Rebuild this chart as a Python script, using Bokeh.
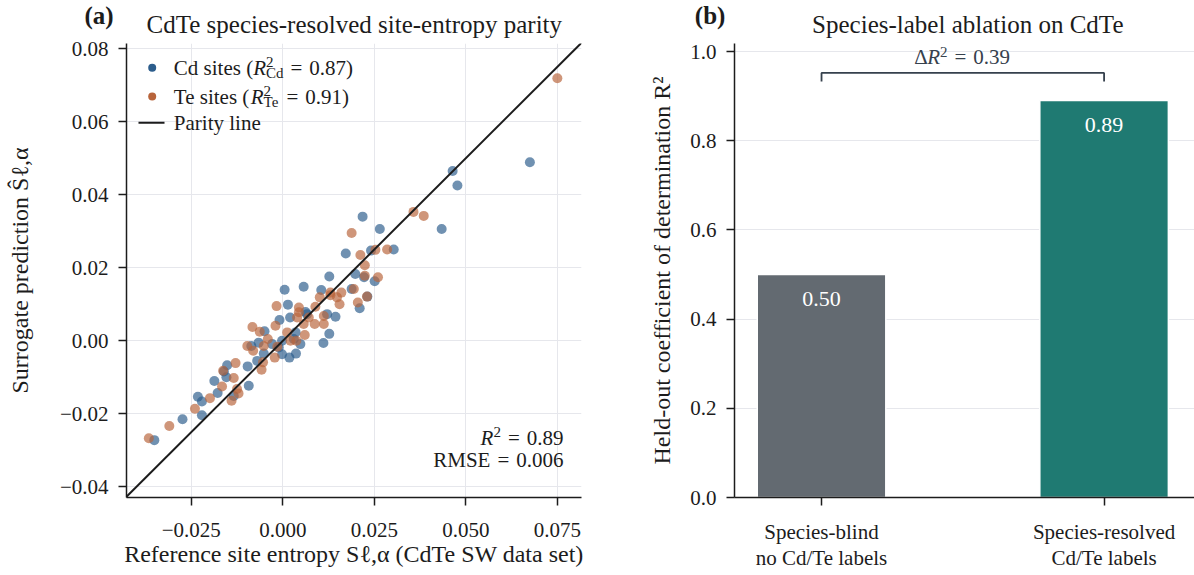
from bokeh.plotting import figure
from bokeh.models import Label, Range1d, FixedTicker, CustomJSTickFormatter, BoxAnnotation, Div
from bokeh.layouts import row, column
from bokeh.embed import file_html
from bokeh.resources import INLINE
from bokeh.core.properties import value

FONT = "Liberation Serif"
INK = "#1c1c1c"

# ---------------- data ----------------
cd_ref = [0.0675, 0.0464, 0.0477, 0.0434, 0.0218, 0.0265, 0.0303, 0.0241, 0.0172, 0.0127,
          0.0198, 0.0222, 0.0251, 0.0188, 0.0231, 0.0210, 0.0057, 0.0005, 0.0105, 0.0014,
          0.0144, 0.0127, 0.0111, 0.0062, 0.0020, -0.0009, -0.0050, -0.0066, -0.0002, 0.0035,
          0.0048, -0.0002, 0.0018, 0.0036, -0.0052, -0.0070, -0.0086, -0.0096, -0.0093, -0.0152,
          -0.0161, -0.0154, -0.0187, -0.0178, -0.0232, -0.0221, -0.0221, -0.0274, -0.0351, -0.0134,
          -0.0011, 0.0030, -0.0029, 0.0066, 0.0121]
cd_pred = [0.0489, 0.0465, 0.0425, 0.0306, 0.0340, 0.0306, 0.0250, 0.0247, 0.0239, 0.0176,
           0.0183, 0.0174, 0.0163, 0.0142, 0.0121, 0.0089, 0.0148, 0.0140, 0.0139, 0.0099,
           0.0066, 0.0019, -0.0006, 0.0079, 0.0064, 0.0057, 0.0026, -0.0005, 0.0000, 0.0023,
           -0.0009, -0.0037, -0.0046, -0.0035, -0.0035, -0.0055, -0.0014, -0.0070, -0.0123, -0.0067,
           -0.0084, -0.0100, -0.0110, -0.0143, -0.0153, -0.0166, -0.0204, -0.0215, -0.0272, -0.0151,
           -0.0018, 0.0005, -0.0009, 0.0073, 0.0073]
te_ref = [0.0750, 0.0357, 0.0385, 0.0188, 0.0253, 0.0285, 0.0212, 0.0224, 0.0224, 0.0260,
          0.0194, 0.0230, 0.0205, 0.0155, 0.0160, 0.0130, 0.0101, 0.0089, 0.0044, 0.0044,
          0.0039, -0.0017, 0.0087, 0.0112, 0.0057, -0.0020, -0.0083, -0.0063, -0.0041, 0.0060,
          0.0021, 0.0037, 0.0012, -0.0097, -0.0081, -0.0052, -0.0015, -0.0022, -0.0054, -0.0058,
          -0.0129, -0.0163, -0.0134, -0.0166, -0.0125, -0.0121, -0.0140, -0.0199, -0.0240, -0.0310,
          -0.0366, 0.0112, 0.0071, 0.0148, 0.0130]
te_pred = [0.0719, 0.0353, 0.0342, 0.0295, 0.0249, 0.0250, 0.0235, 0.0207, 0.0178, 0.0174,
           0.0142, 0.0121, 0.0105, 0.0100, 0.0132, 0.0132, 0.0119, 0.0093, 0.0091, 0.0078,
           0.0064, 0.0095, 0.0046, 0.0046, 0.0046, 0.0041, 0.0038, 0.0025, 0.0005, 0.0016,
           0.0000, 0.0000, 0.0023, -0.0014, -0.0027, -0.0014, -0.0016, -0.0046, -0.0059, -0.0079,
           -0.0061, -0.0082, -0.0102, -0.0125, -0.0132, -0.0144, -0.0164, -0.0157, -0.0186, -0.0233,
           -0.0267, 0.0068, 0.0064, 0.0119, 0.0125]
cd_r2 = "0.87"
te_r2 = "0.91"
all_r2 = "0.89"
all_rmse = "0.006"
x_ticks = [-0.025, 0.0, 0.025, 0.05, 0.075]
y_ticks = [-0.04, -0.02, 0.0, 0.02, 0.04, 0.06, 0.08]

bar_names = ["Species-blind\nno Cd/Te labels", "Species-resolved\nCd/Te labels"]
bar_r2 = [0.50, 0.89]
delta_r2 = "0.39"
r2_ticks = [0.0, 0.2, 0.4, 0.6, 0.8, 1.0]

# ---------------- styling ----------------
CD_COL = "#2c5d8c"
TE_COL = "#b8643b"
BAR_COLS = ["#636a71", "#1f7a72"]
GRID = "#e6e7ec"
BRACKET = "#36414d"

REG = {' ': 250, '(': 333, ')': 333, '=': 564, '.': 250, ',': 250, '-': 333, '/': 278,
       'A': 722, 'C': 667, 'D': 722, 'E': 611, 'H': 722, 'M': 889, 'P': 556, 'R': 667,
       'S': 556, 'T': 611, 'W': 944, 'Δ': 612,
       'a': 444, 'b': 500, 'c': 444, 'd': 500, 'e': 444, 'f': 333, 'g': 500, 'h': 500,
       'i': 278, 'l': 278, 'm': 778, 'n': 500, 'o': 500, 'p': 500, 'r': 333, 's': 389,
       't': 278, 'u': 500, 'v': 500, 'y': 500}
ITA = {'R': 611, 'S': 500}


def tw(text, size, style):
    table = ITA if style == "italic" else REG
    return sum(table.get(ch, REG.get(ch, 500)) for ch in text) * size / 1000.0


def put(p, fl, fb, text, ax, ay, size, style="normal", align="left", color=INK):
    """ax, ay: page pixels of the text's left/centre (vertical middle)."""
    p.add_layout(Label(x=ax - fl, y=fb - ay, x_units="screen", y_units="screen", text=text,
                       text_font=FONT, text_font_size=f"{size}px", text_font_style=style,
                       text_align=align, text_baseline="middle", text_color=color))


def compose(p, fl, fb, x0, y0, parts, align="left", color=INK):
    """parts: (text, size, style, rise_px, advance); text None = gap of `size` px."""
    def width(t, s, st):
        return s if t is None else tw(t, s, st)
    total = sum(width(t, s, st) for t, s, st, r, adv in parts if adv)
    pos = {"right": -total, "center": -total / 2}.get(align, 0.0)
    for t, s, st, r, adv in parts:
        if t is not None:
            put(p, fl, fb, t, x0 + pos, y0 - r, s, st, color=color)
        if adv:
            pos += width(t, s, st)


def eq(val, size=21):
    return [(None, 7, "normal", 0, True), ("=", size, "normal", 0, True),
            (None, 7, "normal", 0, True), (val, size, "normal", 0, True)]


def style_axis(ax, standoff):
    ax.axis_line_color = INK
    ax.axis_line_width = 1.5
    ax.major_tick_line_color = INK
    ax.major_tick_line_width = 1.5
    ax.major_tick_out = 8
    ax.major_tick_in = 0
    ax.minor_tick_line_color = None
    ax.major_label_text_font = FONT
    ax.major_label_text_font_size = "21px"
    ax.major_label_text_color = INK
    ax.major_label_standoff = standoff
    ax.axis_label_text_font = FONT
    ax.axis_label_text_font_size = "24px"
    ax.axis_label_text_font_style = "normal"
    ax.axis_label_text_color = INK


def no_align(p):
    if "frame_align" in p.properties():
        p.frame_align = False
        return True
    return False


HH = 38     # header strip height
H = 575


def header(width, x_page, letter, letter_x, text, text_x):
    h = figure(width=width, height=HH, x_range=Range1d(0, width), y_range=Range1d(0, HH),
               output_backend="svg", toolbar_location=None, min_border=0,
               min_border_left=0, min_border_right=0, min_border_top=0, min_border_bottom=0)
    if not no_align(h):
        html = (f'<div style="position:relative;width:{width}px;height:{HH}px;'
                f'font-family:\'{FONT}\';color:{INK};">'
                f'<span style="position:absolute;left:{letter_x - x_page - 15}px;top:1px;'
                f'font-size:25px;font-weight:bold;line-height:28px;">{letter}</span>'
                f'<span style="position:absolute;left:0;width:{2 * (text_x - x_page)}px;'
                f'text-align:center;top:10px;font-size:25px;line-height:28px;">{text}</span></div>')
        return Div(text=html, width=width, height=HH)
    h.axis.visible = False
    h.grid.visible = False
    h.outline_line_color = None
    put(h, x_page, HH, letter, letter_x, 15.2, 25, "bold", align="center")
    put(h, x_page, HH, text, text_x, 24.2, 25, "normal", align="center")
    return h


# ---------------- panel (a) ----------------
W1 = 600
L1, R1, T1, B1 = 126, 19, 43 - HH, 78
XR = (-0.0427, 0.0816)
YR = (-0.0429, 0.0814)
p1 = figure(width=W1, height=H - HH, x_range=Range1d(*XR), y_range=Range1d(*YR),
            output_backend="svg", toolbar_location=None,
            min_border_left=L1, min_border_right=R1, min_border_top=T1, min_border_bottom=B1)
no_align(p1)
p1.outline_line_color = None
style_axis(p1.xaxis[0], 17)
style_axis(p1.yaxis[0], 10)
p1.xaxis.ticker = FixedTicker(ticks=x_ticks)
p1.yaxis.ticker = FixedTicker(ticks=y_ticks)
p1.xaxis.formatter = CustomJSTickFormatter(
    code="return (tick < -1e-9 ? '\u2212' : '') + Math.abs(tick).toFixed(3);")
p1.yaxis.formatter = CustomJSTickFormatter(
    code="return (tick < -1e-9 ? '\u2212' : '') + Math.abs(tick).toFixed(2);")
p1.xaxis.axis_label = "Reference site entropy Sℓ,α (CdTe SW data set)"
p1.xaxis.axis_label_standoff = 1
p1.yaxis.axis_label = "Surrogate prediction Ŝℓ,α"
p1.yaxis.axis_label_standoff = 24
p1.grid.grid_line_color = GRID
p1.grid.grid_line_width = 1

p1.scatter(cd_ref, cd_pred, size=10, fill_color=CD_COL, fill_alpha=0.68, line_color=None)
p1.scatter(te_ref, te_pred, size=10, fill_color=TE_COL, fill_alpha=0.68, line_color=None)
lim = [min(XR[0], YR[0]) - 0.01, max(XR[1], YR[1]) + 0.01]
p1.line(lim, lim, line_color=INK, line_width=2)

FL1 = L1          # frame left (page px)
FB1 = H - B1      # frame bottom (page px)

# legend
leg_rows = [67.3, 96.0, 122.3]
for cy, col in zip(leg_rows[:2], [CD_COL, TE_COL]):
    p1.add_layout(BoxAnnotation(left=151.7 - 4 - FL1, right=151.7 + 4 - FL1,
                                bottom=FB1 - (cy + 4), top=FB1 - (cy - 4),
                                left_units="screen", right_units="screen",
                                bottom_units="screen", top_units="screen",
                                fill_color=col, fill_alpha=1.0, line_color=None,
                                border_radius=4))
cy = leg_rows[2]
p1.add_layout(BoxAnnotation(left=138 - FL1, right=164 - FL1,
                            bottom=FB1 - (cy + 1), top=FB1 - (cy - 1),
                            left_units="screen", right_units="screen",
                            bottom_units="screen", top_units="screen",
                            fill_color=INK, fill_alpha=1.0, line_color=None))
compose(p1, FL1, FB1, 173.3, leg_rows[0], [
    ("Cd sites (", 21, "normal", 0, True), ("R", 21, "italic", 0, True),
    ("2", 15, "normal", 6, False), ("Cd", 15, "normal", -5, True)]
    + eq(f"{cd_r2})"))
compose(p1, FL1, FB1, 173.3, leg_rows[1], [
    ("Te sites (", 21, "normal", 0, True), ("R", 21, "italic", 0, True),
    ("2", 15, "normal", 6, False), ("Te", 15, "normal", -5, True)]
    + eq(f"{te_r2})"))
compose(p1, FL1, FB1, 173.3, leg_rows[2], [("Parity line", 21, "normal", 0, True)])

# metrics box
compose(p1, FL1, FB1, 563, 437.5, [
    ("R", 21, "italic", 0, True), ("2", 15, "normal", 6, True)] + eq(all_r2), align="right")
compose(p1, FL1, FB1, 563, 459.7, [("RMSE", 21, "normal", 0, True)] + eq(all_rmse),
        align="right")

# ---------------- panel (b) ----------------
W2 = 594
L2, R2, T2, B2 = 134, 0, 43 - HH, 78
p2 = figure(width=W2, height=H - HH, x_range=Range1d(-0.308, 1.32), y_range=Range1d(0, 1.018),
            output_backend="svg", toolbar_location=None,
            min_border_left=L2, min_border_right=R2, min_border_top=T2, min_border_bottom=B2)
no_align(p2)
p2.outline_line_color = None
style_axis(p2.xaxis[0], 14)
style_axis(p2.yaxis[0], 10)
p2.yaxis.ticker = FixedTicker(ticks=r2_ticks)
p2.yaxis.formatter = CustomJSTickFormatter(code="return tick.toFixed(1);")
p2.yaxis.axis_label = "Held-out coefficient of determination R²"
p2.yaxis.axis_label_standoff = 12
xs = list(range(len(bar_names)))
p2.xaxis.ticker = FixedTicker(ticks=xs)
p2.xaxis.major_label_overrides = {i: n for i, n in enumerate(bar_names)}
p2.xaxis.major_label_text_line_height = 1.12
p2.xgrid.visible = False
p2.ygrid.grid_line_color = GRID
p2.ygrid.grid_line_width = 1

p2.vbar(x=xs, top=bar_r2, bottom=0, width=0.455, fill_color=BAR_COLS,
        line_color="white", line_width=1.5)
p2.text(x=xs, y=bar_r2, text=[f"{v:.2f}" for v in bar_r2], y_offset=24,
        text_align="center", text_baseline="middle", text_color="white",
        text_font=value(FONT), text_font_size="22px")

b_top, b_foot = 0.952, 0.933
p2.line([xs[0], xs[0], xs[1], xs[1]], [b_foot, b_top, b_top, b_foot],
        line_color=BRACKET, line_width=1.8)

FL2 = W1 + L2
FB2 = H - B2
compose(p2, FL2, FB2, 961.7, 56.0, [
    ("Δ", 21, "normal", 0, True), ("R", 21, "italic", 0, True),
    ("2", 15, "normal", 5, True)] + eq(delta_r2), align="center", color=BRACKET)

# ---------------- headers (panel letters and titles) ----------------
h1 = header(W1, 0, "(a)", 98.5, "CdTe species-resolved site-entropy parity", 353.8)
h2 = header(W2, W1, "(b)", 709.6, "Species-label ablation on CdTe", 967.3)

layout = row(column(h1, p1), column(h2, p2))
open("out.html", "w").write(file_html(layout, INLINE))
